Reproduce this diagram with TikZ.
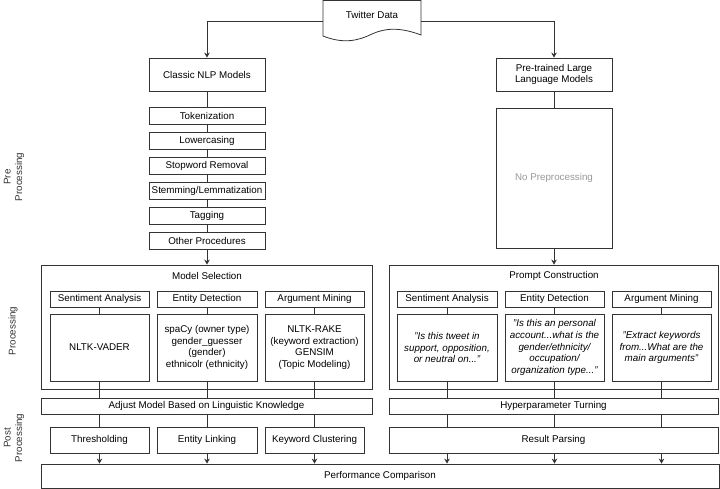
\documentclass[tikz,border=0pt]{standalone}
\usepackage{fontspec}
\setmainfont{Liberation Sans}
\usetikzlibrary{arrows.meta}
\definecolor{ln}{HTML}{333333}
\tikzset{
  box/.style={draw=ln, line width=0.8pt, fill=white, align=center, inner sep=1pt,
    font=\fontsize{9.8}{11.7}\selectfont},
  conn/.style={draw=ln, line width=0.8pt},
  arr/.style={conn, -{Stealth[length=5pt,width=5.5pt]}},
  side/.style={rotate=90, align=center, font=\fontsize{9.8}{11.7}\selectfont, text=ln}
}
\newcommand{\bx}[6]{\node[box, minimum width=#3pt, minimum height=#4pt, #5] (#1) at (#2) {#6};}
\begin{document}
\begin{tikzpicture}[x=1pt,y=-1pt]
\useasboundingbox (0,0) rectangle (720,489);
% Twitter data
\draw[conn, fill=white] (323,0.6) -- (421,0.6) -- (421,35)
  .. controls (400,27) and (385,28) .. (372,34)
  .. controls (358,41) and (343,44) .. (323,36) -- cycle;
\node[font=\fontsize{9.8}{11.7}\selectfont] (tw) at (372,15) {Twitter Data};
\coordinate (twl) at (323,21);
\coordinate (twr) at (421,21);
% top boxes
\bx{cnlp}{207,74.5}{116}{33}{}{Classic NLP Models}
\bx{llm}{554,74.5}{116}{33}{}{Pre-trained Large\\Language Models}
\bx{tok}{207,115.5}{116}{17}{}{Tokenization}
\bx{low}{207,140.5}{116}{17}{}{Lowercasing}
\bx{stop}{207,165.5}{116}{17}{}{Stopword Removal}
\bx{stem}{207,190.5}{116}{17}{}{Stemming/Lemmatization}
\bx{tag}{207,215.5}{116}{17}{}{Tagging}
\bx{oth}{207,240.5}{116}{17}{}{Other Procedures}
\bx{nopre}{554,178}{116}{140}{text=black!40}{No Preprocessing}
% processing containers
\bx{ms}{206.5,327}{331}{124}{}{}
\node[font=\fontsize{9.8}{11.7}\selectfont] (msl) at (207,276) {Model Selection};
\bx{pc}{553.5,327}{329}{124}{}{}
\node[font=\fontsize{9.8}{11.7}\selectfont] (pcl) at (554,276) {Prompt Construction};
% left sub
\bx{sa1}{99.5,299}{99}{16}{}{Sentiment Analysis}
\bx{ed1}{207,299}{100}{16}{}{Entity Detection}
\bx{am1}{314.5,299}{99}{16}{}{Argument Mining}
\bx{c1}{99.5,347.5}{99}{67}{}{NLTK-VADER}
\bx{c2}{207,347.5}{100}{67}{}{spaCy (owner type)\\gender\_guesser\\(gender)\\ethnicolr (ethnicity)}
\bx{c3}{314.5,347.5}{99}{67}{}{NLTK-RAKE\\(keyword extraction)\\GENSIM\\(Topic Modeling)}
% right sub
\bx{sa2}{447,299}{100}{16}{}{Sentiment Analysis}
\bx{ed2}{554.5,299}{99}{16}{}{Entity Detection}
\bx{am2}{661.5,299}{99}{16}{}{Argument Mining}
\bx{d1}{447,347.5}{100}{67}{font=\fontsize{9.8}{11.7}\itshape}{"Is this tweet in\\support, opposition,\\or neutral on..."}
\bx{d2}{554.5,347.5}{99}{67}{font=\fontsize{9.8}{11.7}\itshape}{"Is this an personal\\account...what is the\\gender/ethnicity/\\occupation/\\organization type..."}
\bx{d3}{661.5,347.5}{99}{67}{font=\fontsize{9.8}{11.7}\itshape}{"Extract keywords\\from...What are the\\main arguments"}
% post
\bx{adj}{206.5,406}{331}{16}{}{Adjust Model Based on Linguistic Knowledge}
\bx{hyp}{553.5,406}{329}{16}{}{Hyperparameter Turning}
\bx{thr}{99.5,440}{99}{26}{}{Thresholding}
\bx{el}{207,440}{100}{26}{}{Entity Linking}
\bx{kc}{314.5,440}{99}{26}{}{Keyword Clustering}
\bx{rp}{553.5,440}{329}{26}{}{Result Parsing}
\bx{perf}{380,476}{678}{24}{}{Performance Comparison}
% side labels
\node[side] (lpre) at (14,177) {Pre\\Processing};
\node[side] (lproc) at (13,331) {Processing};
\node[side] (lpost) at (14,438) {Post\\Processing};
% connectors
\draw[arr] (twl) -| (cnlp.north);
\draw[arr] (twr) -| (llm.north);
\draw[conn] (cnlp) -- (tok) (tok) -- (low) (low) -- (stop) (stop) -- (stem) (stem) -- (tag) (tag) -- (oth);
\draw[arr] (oth.south) -- (ms.north -| oth);
\draw[conn] (llm) -- (nopre);
\draw[arr] (nopre.south) -- (pc.north -| nopre);
\foreach \h/\c/\t in {sa1/c1/thr, ed1/c2/el, am1/c3/kc}{
  \draw[conn] (\h) -- (\c);
  \draw[conn] (\c.south) -- (\c.south |- adj.north);
  \draw[conn] (adj.south -| \c) -- (\t.north);
  \draw[arr] (\t.south) -- (perf.north -| \t);
}
\foreach \h/\c in {sa2/d1, ed2/d2, am2/d3}{
  \draw[conn] (\h) -- (\c);
  \draw[conn] (\c.south) -- (\c.south |- hyp.north);
  \draw[conn] (hyp.south -| \c) -- (rp.north -| \c);
  \draw[arr] (rp.south -| \c) -- (perf.north -| \c);
}
\end{tikzpicture}
\end{document}
